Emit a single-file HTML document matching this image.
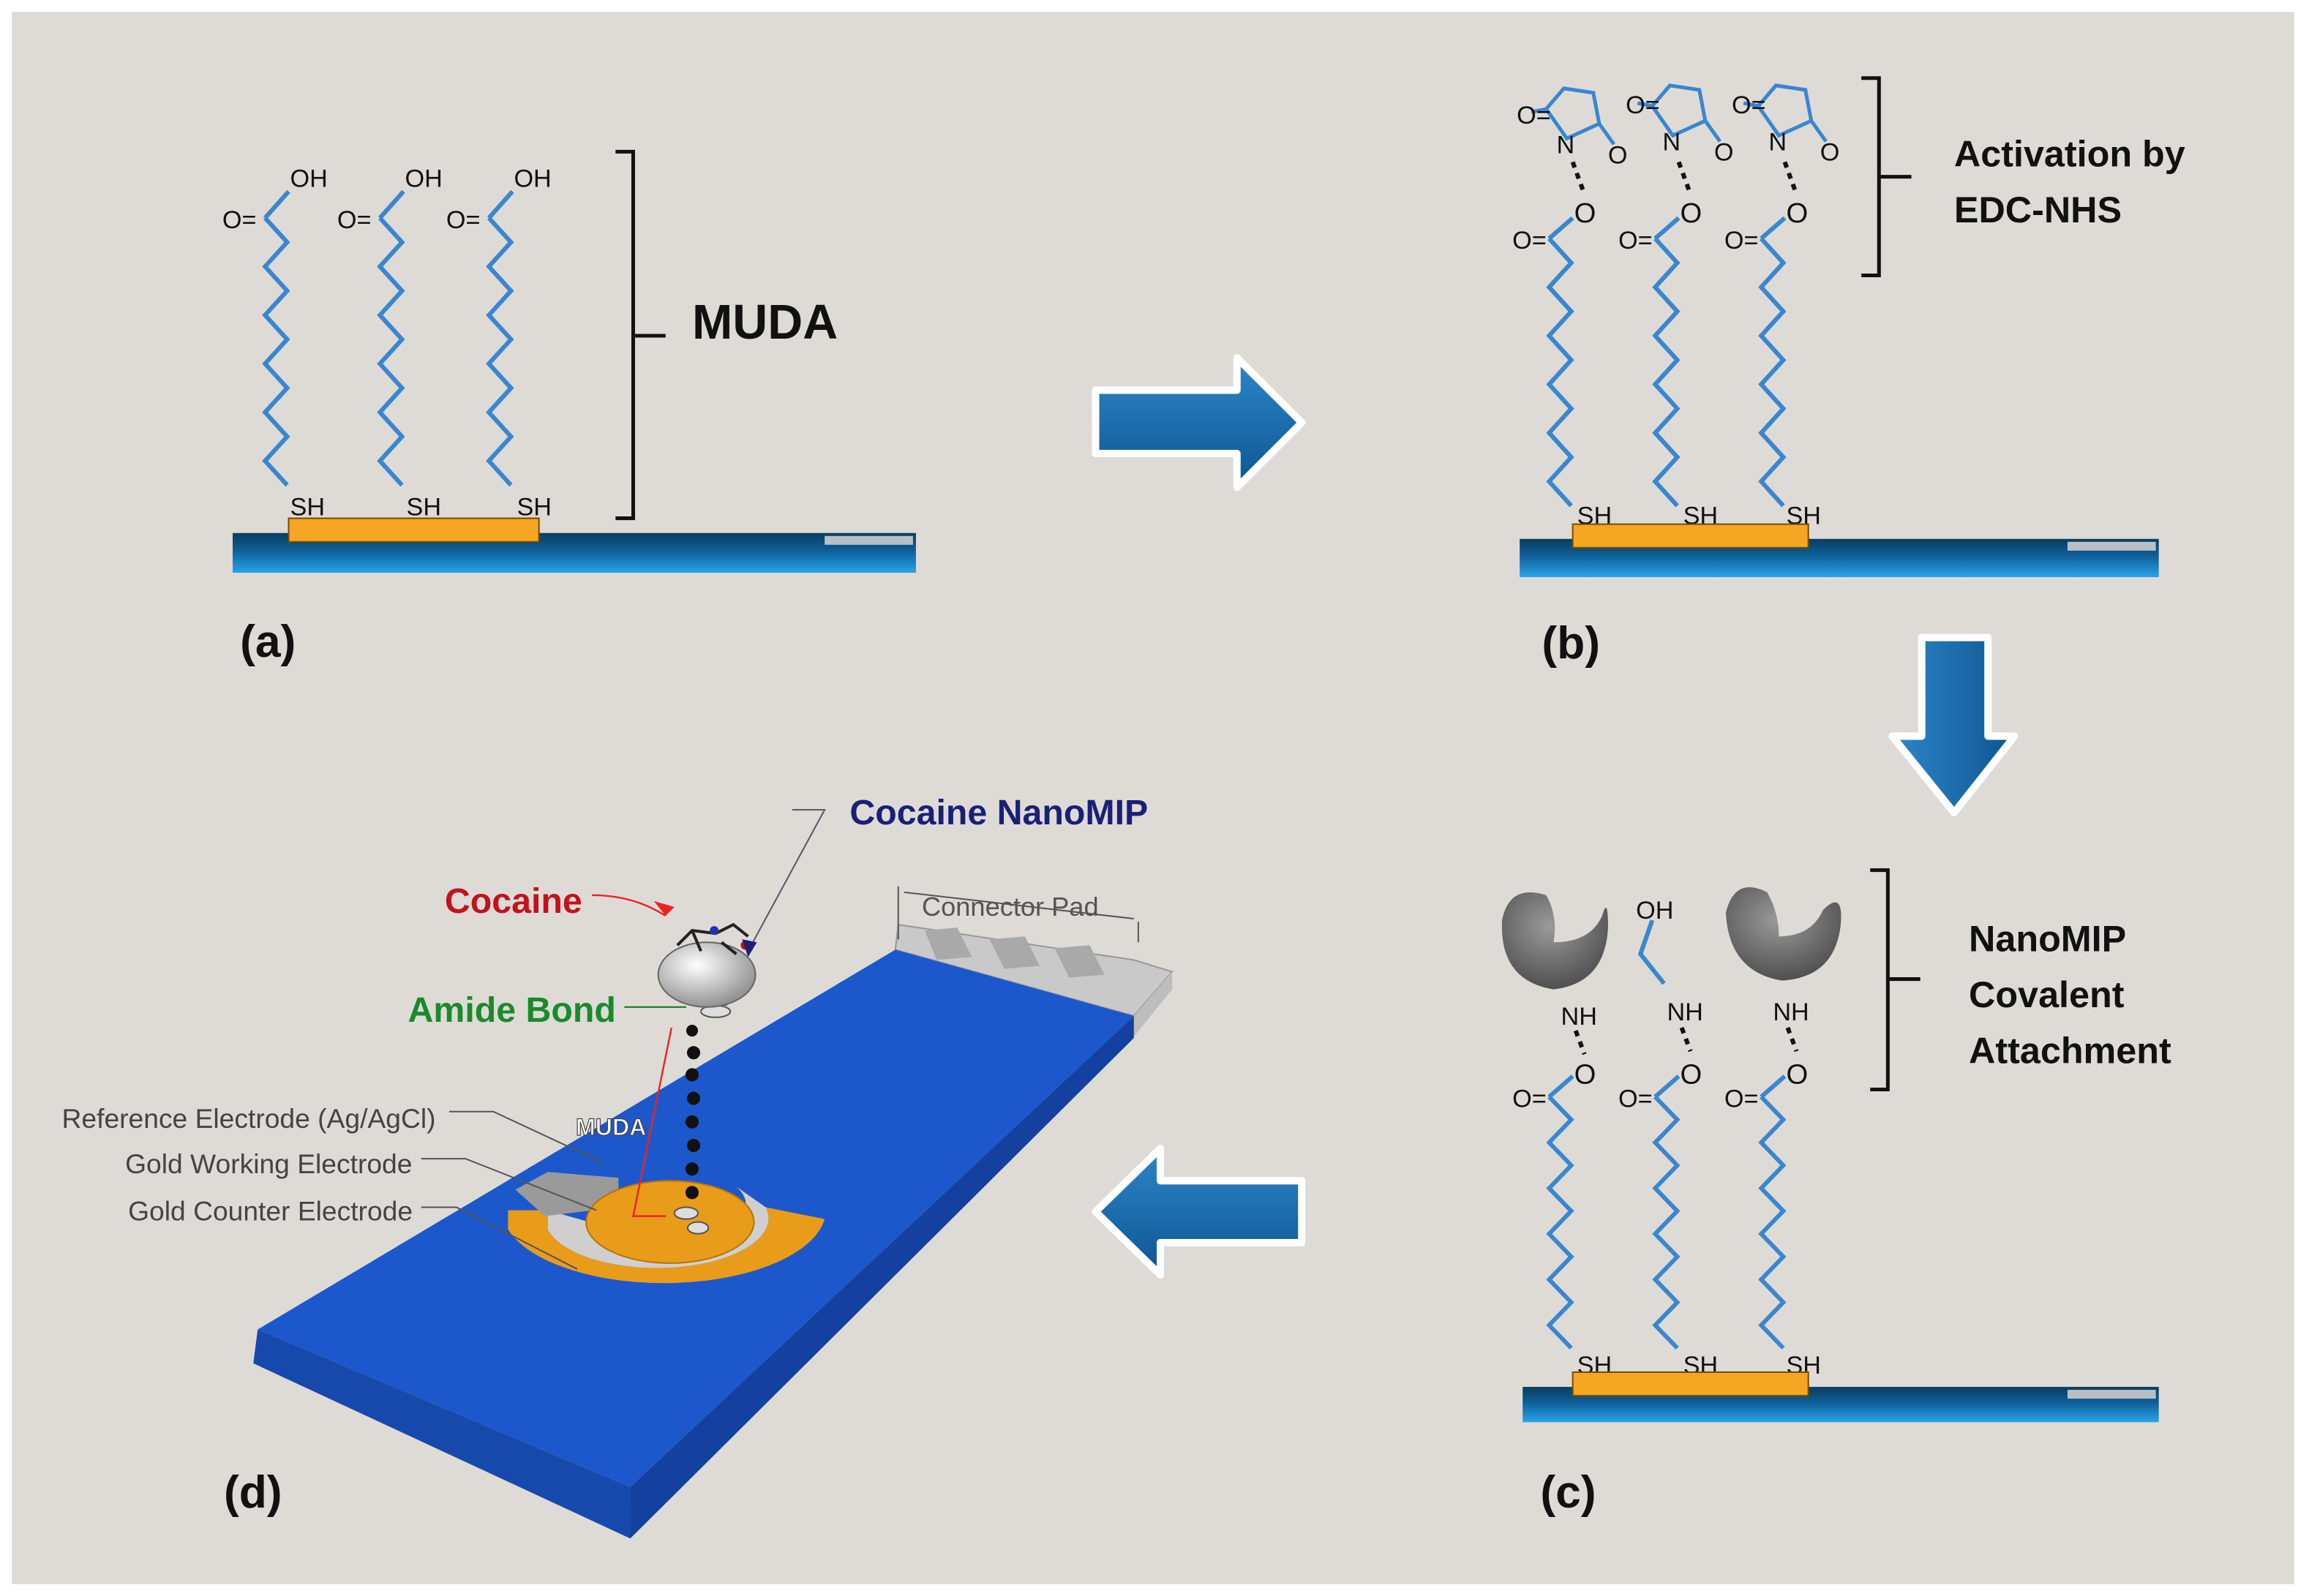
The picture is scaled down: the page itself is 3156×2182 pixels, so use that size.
<!DOCTYPE html>
<html><head><meta charset="utf-8"><style>
html,body{margin:0;padding:0;background:#fff}
svg{display:block}
text{font-family:"Liberation Sans",sans-serif}
</style></head><body>
<svg width="3156" height="2182" viewBox="0 0 1568 1084" xmlns="http://www.w3.org/2000/svg">
<defs>
<polyline id="ch" fill="none" stroke="#3a86d0" stroke-width="3" stroke-linejoin="miter" points="0,0 15,16.5 0,33 15,49.5 0,66 15,82.5 0,99 15,115.5 0,132 15,148.5 0,165 15,181.5"/>
<linearGradient id="bar" x1="0" y1="0" x2="0" y2="1"><stop offset="0" stop-color="#0a3d5e"/><stop offset="0.45" stop-color="#0e5f99"/><stop offset="1" stop-color="#2aa4e8"/></linearGradient>
<linearGradient id="arr" x1="0" y1="0" x2="0" y2="1"><stop offset="0" stop-color="#2e86c8"/><stop offset="1" stop-color="#0d5592"/></linearGradient>
<linearGradient id="arrv" x1="0" y1="0" x2="1" y2="0"><stop offset="0" stop-color="#2e86c8"/><stop offset="1" stop-color="#0d5592"/></linearGradient>
<radialGradient id="sph" cx="0.4" cy="0.35" r="0.7"><stop offset="0" stop-color="#fff"/><stop offset="1" stop-color="#8a8a8a"/></radialGradient>
<radialGradient id="mip" cx="0.45" cy="0.35" r="0.7"><stop offset="0" stop-color="#9a9a9a"/><stop offset="1" stop-color="#4a4a4a"/></radialGradient>
</defs>
<rect x="0" y="0" width="1568" height="1084" fill="#fff"/>
<rect x="8" y="8" width="1550" height="1068" fill="#dedbd7"/>

<!-- Panel a -->
<g font-size="17" fill="#111">
<use href="#ch" x="180" y="148"/><use href="#ch" x="258" y="148"/><use href="#ch" x="332" y="148"/>
<g stroke="#3a86d0" stroke-width="3"><line x1="180" y1="148" x2="196" y2="130"/><line x1="258" y1="148" x2="274" y2="130"/><line x1="332" y1="148" x2="348" y2="130"/></g>
<text x="197" y="127">OH</text><text x="275" y="127">OH</text><text x="349" y="127">OH</text>
<text x="151" y="155">O=</text><text x="229" y="155">O=</text><text x="303" y="155">O=</text>
<text x="197" y="350">SH</text><text x="276" y="350">SH</text><text x="351" y="350">SH</text>
</g>
<rect x="158" y="362" width="464" height="27" fill="url(#bar)"/>
<rect x="560" y="364" width="60" height="6" fill="#b8c0c6"/>
<rect x="196" y="352" width="170" height="16" fill="#f5a623" stroke="#7a4a00" stroke-width="1"/>
<path d="M418,103 H430 V352 H418 M430,228 H452" fill="none" stroke="#111" stroke-width="2.5"/>
<text x="470" y="230" font-size="33" font-weight="bold" fill="#111">MUDA</text>
<text x="163" y="446" font-size="31" font-weight="bold" fill="#111">(a)</text>

<!-- right arrow -->
<path d="M744,265 H840 V243 L884,287 L840,331 V308 H744 Z" fill="url(#arr)" stroke="#fff" stroke-width="5" stroke-linejoin="round"/>

<!-- Panel b -->
<g font-size="17" fill="#111">
<use href="#ch" x="1052" y="162"/><use href="#ch" x="1124" y="162"/><use href="#ch" x="1196" y="162"/>
<g stroke="#3a86d0" stroke-width="3"><line x1="1052" y1="162" x2="1068" y2="148"/><line x1="1124" y1="162" x2="1140" y2="148"/><line x1="1196" y1="162" x2="1212" y2="148"/></g>
<text x="1027" y="169">O=</text><text x="1099" y="169">O=</text><text x="1171" y="169">O=</text>
<text x="1069" y="151" font-size="19">O</text><text x="1141" y="151" font-size="19">O</text><text x="1213" y="151" font-size="19">O</text>
<g stroke="#111" stroke-width="3" stroke-dasharray="4,4"><line x1="1068" y1="110" x2="1076" y2="132"/><line x1="1140" y1="110" x2="1148" y2="132"/><line x1="1212" y1="110" x2="1220" y2="132"/></g>
<g fill="none" stroke="#3a86d0" stroke-width="2.5">
<path d="M1064,94 L1050,74 L1062,60 L1082,63 L1086,84 Z M1086,84 L1096,98 M1050,74 L1040,76"/>
<path d="M1136,92 L1122,72 L1134,58 L1154,61 L1158,82 Z M1158,82 L1168,96 M1122,72 L1112,70"/>
<path d="M1208,92 L1194,72 L1206,58 L1226,61 L1230,82 Z M1230,82 L1240,96 M1194,72 L1184,70"/>
</g>
<text x="1030" y="84">O=</text><text x="1057" y="104">N</text><text x="1092" y="111">O</text>
<text x="1104" y="77">O=</text><text x="1129" y="102">N</text><text x="1164" y="109">O</text>
<text x="1176" y="77">O=</text><text x="1201" y="102">N</text><text x="1236" y="109">O</text>
<text x="1071" y="356">SH</text><text x="1143" y="356">SH</text><text x="1213" y="356">SH</text>
</g>
<rect x="1032" y="366" width="434" height="26" fill="url(#bar)"/>
<rect x="1404" y="368" width="60" height="6" fill="#b8c0c6"/>
<rect x="1068" y="356" width="160" height="16" fill="#f5a623" stroke="#7a4a00" stroke-width="1"/>
<path d="M1264,53 H1276 V187 H1264 M1276,120 H1298" fill="none" stroke="#111" stroke-width="2.5"/>
<text x="1327" y="113" font-size="25" font-weight="bold" fill="#111">Activation by</text>
<text x="1327" y="151" font-size="25" font-weight="bold" fill="#111">EDC-NHS</text>
<text x="1047" y="447" font-size="31" font-weight="bold" fill="#111">(b)</text>

<!-- down arrow -->
<path d="M1305,433 H1350 V500 H1368 L1327,552 L1285,500 H1305 Z" fill="url(#arrv)" stroke="#fff" stroke-width="5" stroke-linejoin="round"/>

<!-- Panel c -->
<g font-size="17" fill="#111">
<g transform="translate(0,745) scale(1,0.94)"><use href="#ch" x="1052" y="0"/><use href="#ch" x="1124" y="0"/><use href="#ch" x="1196" y="0"/></g>
<g stroke="#3a86d0" stroke-width="3"><line x1="1052" y1="745" x2="1068" y2="731"/><line x1="1124" y1="745" x2="1140" y2="731"/><line x1="1196" y1="745" x2="1212" y2="731"/>
<polyline points="1122,625 1114,648 1130,668" fill="none"/></g>
<text x="1027" y="752">O=</text><text x="1099" y="752">O=</text><text x="1171" y="752">O=</text>
<text x="1069" y="736" font-size="19">O</text><text x="1141" y="736" font-size="19">O</text><text x="1213" y="736" font-size="19">O</text>
<g stroke="#111" stroke-width="3" stroke-dasharray="4,4"><line x1="1070" y1="700" x2="1076" y2="716"/><line x1="1142" y1="698" x2="1148" y2="714"/><line x1="1214" y1="698" x2="1220" y2="714"/></g>
<text x="1060" y="696">NH</text><text x="1132" y="693">NH</text><text x="1204" y="693">NH</text>
<text x="1111" y="624">OH</text>
<text x="1071" y="933">SH</text><text x="1143" y="933">SH</text><text x="1213" y="933">SH</text>
</g>
<g fill="url(#mip)">
<path d="M1020,625 Q1025,600 1050,608 Q1058,622 1055,640 Q1080,640 1088,622 Q1092,608 1092,630 Q1090,668 1055,672 Q1018,666 1020,625 Z"/>
<path d="M1172,620 Q1178,595 1200,606 Q1208,620 1208,636 Q1230,636 1238,618 Q1252,604 1250,628 Q1246,664 1210,666 Q1174,660 1172,620 Z"/>
</g>
<rect x="1034" y="942" width="432" height="24" fill="url(#bar)"/>
<rect x="1404" y="944" width="60" height="6" fill="#b8c0c6"/>
<rect x="1068" y="932" width="160" height="16" fill="#f5a623" stroke="#7a4a00" stroke-width="1"/>
<path d="M1270,591 H1282 V740 H1270 M1282,665 H1304" fill="none" stroke="#111" stroke-width="2.5"/>
<g font-size="25" font-weight="bold" fill="#111"><text x="1337" y="646">NanoMIP</text><text x="1337" y="684">Covalent</text><text x="1337" y="722">Attachment</text></g>
<text x="1046" y="1024" font-size="31" font-weight="bold" fill="#111">(c)</text>

<!-- left arrow -->
<path d="M884,802 H788 V780 L744,823 L788,866 V844 H884 Z" fill="url(#arr)" stroke="#fff" stroke-width="5" stroke-linejoin="round"/>

<!-- Panel d -->
<polygon points="610,628 770,652 796,660 770,690 608,645" fill="#c9c9c9" stroke="#999"/>
<g fill="#a9a9a9"><polygon points="628,632 650,630 660,650 636,652"/><polygon points="672,638 696,636 706,656 682,658"/><polygon points="716,644 740,642 750,662 726,664"/></g>
<polygon points="770,690 796,660 796,672 770,704" fill="#bdbdbd"/>
<polygon points="175,903 608,645 770,690 428,1010" fill="#1c58cc"/>
<polygon points="175,903 428,1010 428,1045 172,926" fill="#1749ac"/>
<polygon points="428,1010 770,690 770,705 428,1045" fill="#1440a0"/>
<path d="M345,835 A110,50 0 0 0 560,828 L520,820 A72,32 0 0 1 372,835 L372,822 L345,822 Z" fill="#e99b1a"/>
<path d="M372,835 A72,32 0 0 0 520,820 L500,806 A55,25 0 0 1 400,830 L372,822 Z" fill="#cfcfcf"/>
<polygon points="350,808 372,796 420,800 420,820 370,826" fill="#9a9a9a"/>
<ellipse cx="455" cy="830" rx="57" ry="28" fill="#e99b1a" stroke="#b77400"/>
<g fill="#111"><circle cx="470" cy="700" r="4"/><circle cx="471" cy="715" r="4.5"/><circle cx="470" cy="730" r="4.5"/><circle cx="471" cy="746" r="4.5"/><circle cx="470" cy="762" r="4.5"/><circle cx="471" cy="778" r="4.5"/><circle cx="470" cy="794" r="4.5"/><circle cx="470" cy="810" r="4.5"/></g>
<g fill="#ddd" stroke="#555"><ellipse cx="466" cy="824" rx="8" ry="4"/><ellipse cx="474" cy="834" rx="7" ry="4"/><ellipse cx="486" cy="687" rx="10" ry="4"/></g>
<g fill="#1a7a22"><rect x="470" y="677" width="10" height="6"/><rect x="486" y="677" width="8" height="6"/></g>
<ellipse cx="480" cy="662" rx="33" ry="22" fill="url(#sph)" stroke="#666"/>
<g stroke="#222" stroke-width="2" fill="none"><path d="M460,642 L470,632 L486,634 L498,628 L508,636 M470,632 L476,646 M490,640 L500,648"/></g>
<circle cx="485" cy="632" r="3" fill="#2233aa"/><circle cx="506" cy="642" r="3" fill="#c01010"/>
<g stroke="#e22" stroke-width="1.2" fill="none"><polyline points="456,698 430,826 452,826"/><path d="M402,608 Q430,608 452,622"/></g>
<polygon points="452,622 444,612 458,616" fill="#e22"/>
<path d="M538,550 L560,550 L508,646" stroke="#556" stroke-width="1" fill="none"/>
<polygon points="508,650 504,638 514,640" fill="#1a1f78"/>
<path d="M424,684 L466,684" stroke="#1a7a22" stroke-width="1"/>
<g stroke="#555" stroke-width="1" fill="none"><path d="M305,755 L335,755 L410,790"/><path d="M286,787 L316,787 L405,822"/><path d="M286,820 L310,820 L392,862"/><path d="M610,602 V638 M773,626 V640 M614,606 L770,624"/></g>
<text x="302" y="620" font-size="24" font-weight="bold" fill="#c2121c">Cocaine</text>
<text x="577" y="560" font-size="24" font-weight="bold" fill="#1a1f78">Cocaine NanoMIP</text>
<text x="277" y="694" font-size="24" font-weight="bold" fill="#1a8a2a">Amide Bond</text>
<text x="626" y="622" font-size="18" fill="#555">Connector Pad</text>
<text x="391" y="771" font-size="16" font-weight="bold" fill="#fff" stroke="#444" stroke-width="0.6">MUDA</text>
<g font-size="18.5" fill="#444"><text x="42" y="766">Reference Electrode (Ag/AgCl)</text><text x="85" y="797">Gold Working Electrode</text><text x="87" y="829">Gold Counter Electrode</text></g>
<text x="152" y="1024" font-size="31" font-weight="bold" fill="#111">(d)</text>
</svg>
</body></html>
